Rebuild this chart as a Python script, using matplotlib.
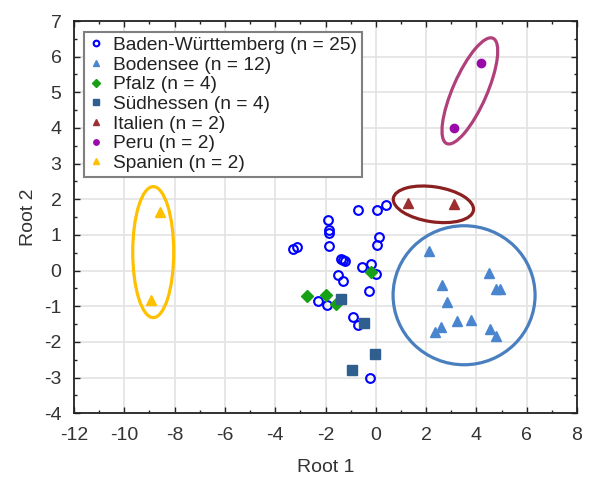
import matplotlib
matplotlib.use("Agg")
import matplotlib.pyplot as plt
from matplotlib.patches import Ellipse
from matplotlib.transforms import ScaledTranslation
from matplotlib.ticker import MultipleLocator

plt.rcParams['font.family'] = ['Liberation Sans', 'DejaVu Sans']
plt.rcParams['axes.unicode_minus'] = False

# ---- data ----
bw_x = [-0.70, 0.06, 0.41, -1.89, -1.85, -1.85, -1.85, 0.13, 0.06, -3.28, -3.15, -1.40, -1.22,
        -0.56, -0.20, 0.01, -1.49, -1.32, -2.29, -1.93, -0.28, -0.92, -0.70, -0.23, -1.32]
bw_y = [1.69, 1.69, 1.83, 1.41, 1.15, 1.06, 0.68, 0.93, 0.73, 0.62, 0.66, 0.32, 0.26,
        0.10, 0.20, -0.10, -0.13, -0.29, -0.86, -0.95, -0.57, -1.30, -1.52, -3.01, 0.30]
bo_x = [2.13, 4.51, 4.78, 4.94, 2.62, 2.82, 3.22, 3.77, 2.58, 2.35, 4.54, 4.78]
bo_y = [0.55, -0.08, -0.51, -0.51, -0.41, -0.88, -1.42, -1.38, -1.58, -1.71, -1.63, -1.82]
pf_x = [-2.72, -1.98, -1.58, -0.20]
pf_y = [-0.71, -0.69, -0.93, -0.04]
sh_x = [-1.40, -0.47, -0.02, -0.93]
sh_y = [-0.79, -1.46, -2.33, -2.78]
it_x = [1.29, 3.11]
it_y = [1.90, 1.86]
pe_x = [4.17, 3.11]
pe_y = [5.83, 4.01]
sp_x = [-8.58, -8.95]
sp_y = [1.65, -0.83]

labels = ["Baden-Württemberg (n = 25)", "Bodensee (n = 12)", "Pfalz (n = 4)",
          "Südhessen (n = 4)", "Italien (n = 2)", "Peru (n = 2)", "Spanien (n = 2)"]

# group ellipses: center (data), width/height in pixels, angle in degrees
ell_centers = [(-8.85, 0.52), (3.74, 5.04), (2.29, 1.86), (3.51, -0.69)]
ell_sizes = [(41, 131, 0), (115, 34, 66.3), (81, 35, -8.5), (142, 139, 0)]
ell_colors = ['#ffc000', '#b0407a', '#8b2020', '#4a7fbf']

# ---- figure ----
fig = plt.figure(figsize=(5.94, 4.8), dpi=100)
ax = fig.add_axes([74/594, 1 - 413.3/480, 503/594, 392.3/480])
ax.set_xlim(-12, 8)
ax.set_ylim(-4, 7)
ax.xaxis.set_major_locator(MultipleLocator(2))
ax.xaxis.set_minor_locator(MultipleLocator(1))
ax.yaxis.set_major_locator(MultipleLocator(1))
ax.yaxis.set_minor_locator(MultipleLocator(0.5))
ax.grid(True, which='major', color='#e3e3e3', linewidth=1.2, zorder=0)
ax.set_axisbelow(True)
ax.tick_params(which='both', direction='in', top=True, right=True, colors='#222222',
               labelsize=14, width=1.0)
ax.tick_params(which='major', length=4)
ax.tick_params(which='minor', length=2)
ax.tick_params(axis='x', which='both', pad=10)
ax.tick_params(axis='y', which='both', pad=9)
for tl in ax.get_xticklabels() + ax.get_yticklabels():
    tl.set_color('#333333')
for s in ax.spines.values():
    s.set_linewidth(1.3)
    s.set_color('#222222')

ax.plot(bw_x, bw_y, 'o', ls='none', mfc='none', mec='#0000ff', mew=1.5, ms=6.3, label=labels[0], zorder=3)
ax.plot(bo_x, bo_y, '^', ls='none', color='#4a86d0', ms=7.5, label=labels[1], zorder=3)
ax.plot(pf_x, pf_y, 'D', ls='none', color='#16a016', ms=6, label=labels[2], zorder=3)
ax.plot(sh_x, sh_y, 's', ls='none', color='#2f5f8f', ms=7, label=labels[3], zorder=3)
ax.plot(it_x, it_y, '^', ls='none', color='#9c2f2f', ms=7.5, label=labels[4], zorder=3)
ax.plot(pe_x, pe_y, 'o', ls='none', color='#9a0aa8', ms=6, label=labels[5], zorder=3)
ax.plot(sp_x, sp_y, '^', ls='none', color='#ffc000', ms=7.5, label=labels[6], zorder=3)

for (cx, cy), (w, h, a), c in zip(ell_centers, ell_sizes, ell_colors):
    tr = fig.dpi_scale_trans + ScaledTranslation(cx, cy, ax.transData)
    e = Ellipse((0, 0), w / 100, h / 100, angle=a, transform=tr, fill=False,
                edgecolor=c, linewidth=2.3, zorder=2)
    ax.add_patch(e)

leg = ax.legend(loc='upper left', bbox_to_anchor=(0.02, 0.973), fontsize=13.8, frameon=True,
                fancybox=False, edgecolor='#808080', framealpha=1, markerscale=0.65,
                handlelength=0.7, handletextpad=0.55, borderpad=0.25, labelspacing=0.12,
                borderaxespad=0)
leg.get_frame().set_linewidth(1.5)
for t in leg.get_texts():
    t.set_color('#222222')

ax.set_xlabel('Root 1', fontsize=14, color='#333333', labelpad=11)
ax.set_ylabel('Root 2', fontsize=14, color='#333333', labelpad=5)

fig.savefig('out.png', dpi=100)
